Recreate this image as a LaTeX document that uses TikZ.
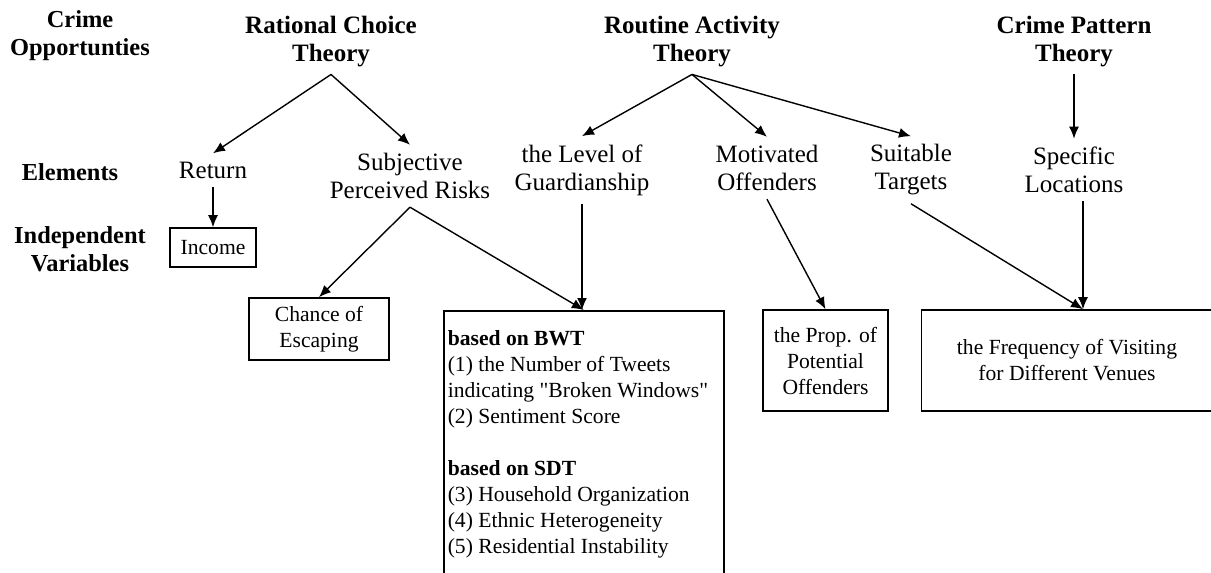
\documentclass[tikz,border=0pt]{standalone}
\usepackage{fontspec}
\setmainfont{Liberation Serif}
\usepackage{tikz}
\usetikzlibrary{arrows.meta}

\begin{document}
\begin{tikzpicture}[x=0.5pt, y=-0.5pt,
    every node/.style={font=\fontsize{12.5}{14}\selectfont, align=center},
    rowlabel/.style={font=\fontsize{12.2}{14}\selectfont\bfseries},
    theorynode/.style={font=\fontsize{12.5}{14}\selectfont\bfseries},
    elemnode/.style={inner sep=4pt},
    varbox/.style={draw, line width=0.8pt, inner sep=0pt, font=\fontsize{10.8}{13}\selectfont},
    linkarrow/.style={-{Latex[length=6pt,width=5pt]}, line width=0.7pt}]

    \clip (0,0) rectangle (1211,573);

    % Row labels
    \node[rowlabel] (opp) at (80,36) {Crime\\Opportunties};
    \node[rowlabel] (elem) at (70,172) {Elements};
    \node[rowlabel] (indep) at (80,249) {Independent\\Variables};

    % Theories
    \node[theorynode] (rct) at (331,42) {Rational Choice\\Theory};
    \node[theorynode] (rat) at (692,42) {Routine Activity\\Theory};
    \node[theorynode] (cpt) at (1074,42) {Crime Pattern\\Theory};

    % Elements
    \node[elemnode] (ret) at (213,170) {Return};
    \node[elemnode] (spr) at (410,176) {Subjective\\Perceived Risks};
    \node[elemnode] (guard) at (582,170) {the Level of\\Guardianship};
    \node[elemnode] (mot) at (767,168) {Motivated\\Offenders};
    \node[elemnode] (tgt) at (911,170) {Suitable\\Targets};
    \node[elemnode] (loc) at (1074,170) {Specific\\Locations};

    % Independent variables
    \node[varbox, minimum width=43pt, minimum height=19.5pt] (inc) at (213,247.5) {Income};
    \node[varbox, minimum width=70pt, minimum height=31pt] (esc) at (319,329) {Chance of\\Escaping};
    \node[varbox, anchor=north west, minimum width=139.5pt, minimum height=134pt,
          inner xsep=2pt, text width=136pt, align=flush left] (bwt) at (443,310)
        {\textbf{based on BWT}\\
         (1) the Number of Tweets\\
         indicating \textquotedbl Broken Windows\textquotedbl\\
         (2) Sentiment Score\\[13pt]
         \textbf{based on SDT}\\
         (3) Household Organization\\
         (4) Ethnic Heterogeneity\\
         (5) Residential Instability};
    \node[varbox, minimum width=62.5pt, minimum height=50.5pt] (prop) at (825.5,360.5) {the Prop. of\\Potential\\Offenders};
    \node[varbox, minimum width=145.5pt, minimum height=50.5pt] (freq) at (1067,360.5) {the Frequency of Visiting\\for Different Venues};

    % Edges
    \draw[linkarrow] (rct.south) -- (ret.north);
    \draw[linkarrow] (rct.south) -- (spr.north);
    \draw[linkarrow] (rat.south) -- (guard.north);
    \draw[linkarrow] (rat.south) -- (mot.north);
    \draw[linkarrow] (rat.south) -- (tgt.north);
    \draw[linkarrow] (cpt.south) -- (loc.north);
    \draw[linkarrow] (ret.south) -- (inc.north);
    \draw[linkarrow] (spr.south) -- (esc.north);
    \draw[linkarrow] (spr.south) -- (bwt.north);
    \draw[linkarrow] (guard.south) -- (guard.south |- bwt.north);
    \draw[linkarrow] (mot.south) -- (prop.north);
    \draw[linkarrow] (tgt.south) -- ([xshift=4.5pt]loc.south |- freq.north);
    \draw[linkarrow] ([xshift=4.5pt]loc.south) -- ([xshift=4.5pt]loc.south |- freq.north);
\end{tikzpicture}
\end{document}
